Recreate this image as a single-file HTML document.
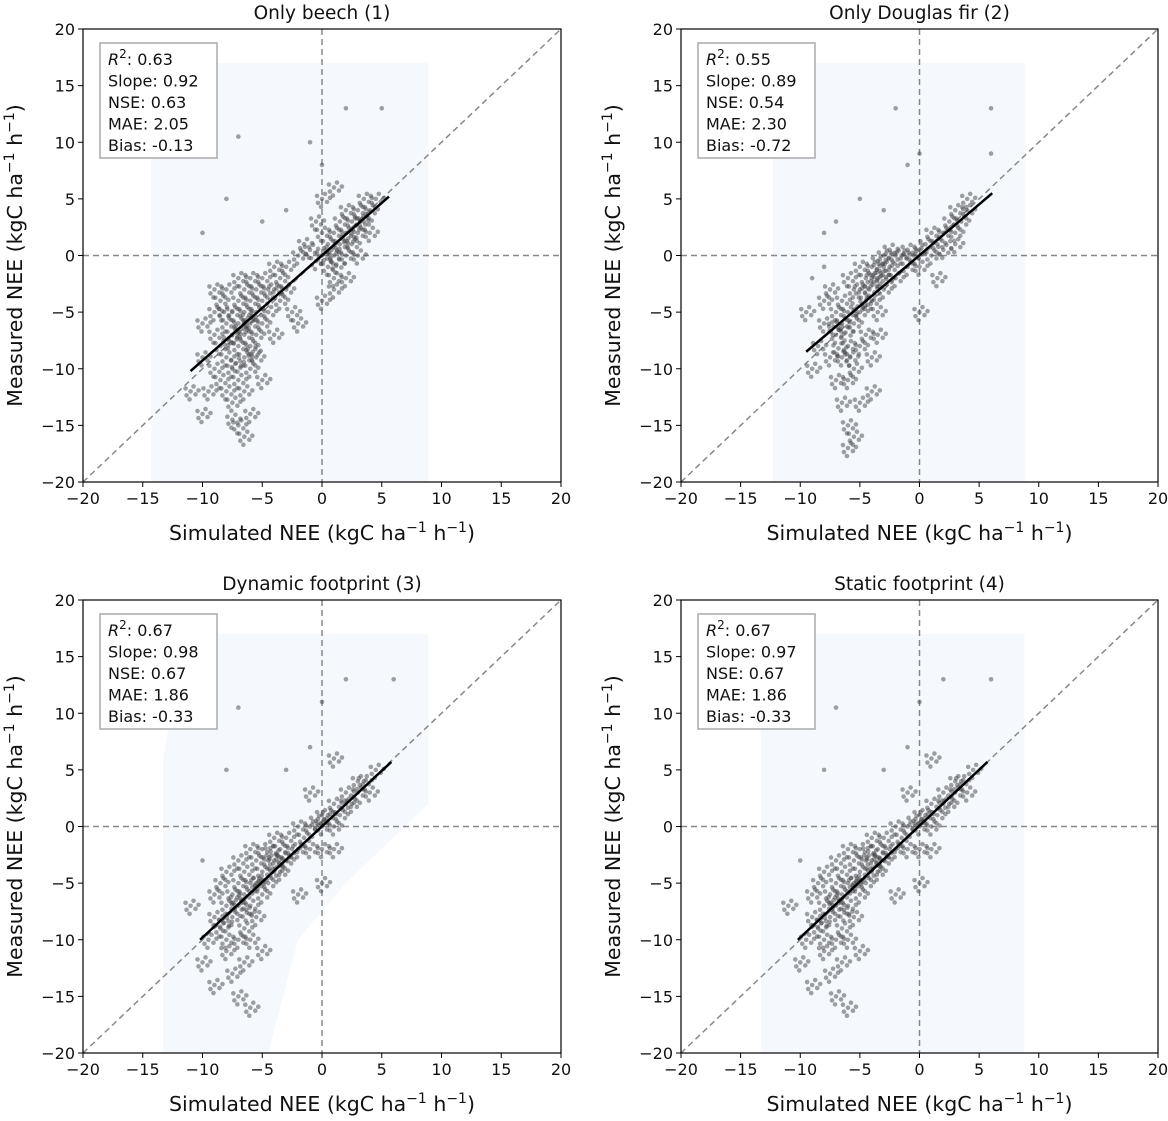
<!DOCTYPE html>
<html><head><meta charset="utf-8">
<style>
body{margin:0;background:#fff;}
svg text{font-family:"DejaVu Sans","Liberation Sans",sans-serif;fill:#111;}
</style></head>
<body>
<svg id="fig" width="1168" height="1116" viewBox="0 0 1168 1116" xmlns="http://www.w3.org/2000/svg"></svg>
<script>
const ticks=[-20,-15,-10,-5,0,5,10,15,20];
const titles=["Only beech (1)","Only Douglas fir (2)","Dynamic footprint (3)","Static footprint (4)"];
const r2=["0.63","0.55","0.67","0.67"];
const slopes=["0.92","0.89","0.98","0.97"];
const nses=["0.63","0.54","0.67","0.67"];
const maes=["2.05","2.30","1.86","1.86"];
const biases=["-0.13","-0.72","-0.33","-0.33"];
const fitLines=[[-11,-10.2,5.6,5.2],[-9.5,-8.5,6.1,5.5],[-10.2,-10,5.8,5.7],[-10.2,-10,5.7,5.7]];
const shadeRect=[[-14.3,8.9,-20,17],[-12.3,8.9,-20,17],[-13.3,8.9,-20,17],[-13.3,8.8,-20,17]];
const pts1=[[-10,-14],[-9.5,-12],[-9,-10],[-8.5,-8],[-8,-6],[-8,-9],[-8,-12],[-7.5,-5],[-7.5,-7],[-7.5,-10],[-7.5,-13],[-7,-4],[-7,-6],[-7,-8],[-7,-11],[-7,-15],[-6.5,-3],[-6.5,-5],[-6.5,-7],[-6.5,-9],[-6.5,-12],[-6,-2],[-6,-4],[-6,-6],[-6,-8],[-6,-10],[-6,-14],[-5.5,-3],[-5.5,-5],[-5.5,-7],[-5.5,-9],[-5,-2],[-5,-4],[-5,-6],[-5,-11],[-4.5,-3],[-4.5,-5],[-4,-1],[-4,-3],[-4,-7],[-3.5,-2],[-3.5,-4],[-3,-1],[-3,-3],[-2.5,-5],[-9,-7],[-9,-5],[-10,-6],[-10,-9],[-11,-12],[-8.5,-4],[-8,-3],[-9,-3],[-7,-2],[-6.5,-16],[-7.5,-14.5],[-8.5,-11],[-7.8,-7.5],[-6.8,-6.5],[-7.2,-9.5],[-6.2,-5.5],[-8.2,-5],[-5.8,-8.5],
[-2,0],[-1.5,1],[-1,0.5],[-0.5,-0.5],[0,0],[0,2],[0.5,-1],[0.5,1],[1,2],[1,0],[1,-2],[1.5,1],[1.5,3],[2,2],[2,0],[2,4],[2.5,1],[2.5,3],[3,2],[3,4],[3.5,3],[3.5,5],[4,4],[4,2],[4.5,5],[1,-3],[2,-2],[0,-4],[0,5],[0,8],[-1,10],[2,13],[5,13],[-7,10.5],[-8,5],[-3,4],[-5,3],[-10,2],[1,6],[-2,-6],[3,0],[0.8,0.5],[2.2,1.5],[1.2,-0.8],[3.2,3],[-0.5,3]];
const pts2=[[-9,-10],[-8.5,-8],[-8,-6],[-8,-4],[-7.5,-9],[-7.5,-3],[-7,-5],[-7,-7],[-7,-11],[-6.5,-4],[-6.5,-6],[-6.5,-9],[-6.5,-13],[-6,-2],[-6,-5],[-6,-8],[-6,-11],[-6,-15],[-5.5,-3],[-5.5,-6],[-5.5,-10],[-5.5,-16],[-5,-1],[-5,-3],[-5,-5],[-5,-8],[-5,-13],[-4.5,-2],[-4.5,-4],[-4.5,-7],[-4,-1],[-4,-2],[-4,-4],[-4,-9],[-3.5,-0.5],[-3.5,-2],[-3.5,-5],[-3,0],[-3,-1],[-3,-3],[-2.5,-1],[-2.5,0.5],[-2,0],[-2,-2],[-1.5,0],[-1,0.5],[-1,-1],[-0.5,0],[0,0.5],[0,-1],[0.5,1],[1,0],[1,2],[1.5,1],[2,2],[2,0.5],[2.5,3],[3,2],[3,4],[3.5,3],[4,4],[4,5],[-8,2],[-7,3],[-5,5],[-3,4],[-1,8],[-2,13],[0,9],[6,13],[6,9],[-8,-1],[-9,-2],[-9.5,-5],[-6,-17],[-4,-12],[-3.5,-7],[-7.2,-6.3],[-6.2,-6.8],[-5.2,-4.5],[-4.2,-3],[-3.2,-1.8],[-6.8,-8.2],[-5.8,-9],[1.5,-2],[0,-5],[3,1]];
const pts3=[[-10,-12],[-9.5,-10],[-9,-8],[-9,-6],[-8.5,-9],[-8.5,-5],[-8,-7],[-8,-4],[-8,-11],[-7.5,-6],[-7.5,-8],[-7.5,-13],[-7,-3],[-7,-5],[-7,-7],[-7,-10],[-7,-15],[-6.5,-4],[-6.5,-6],[-6.5,-9],[-6.5,-12],[-6,-2],[-6,-5],[-6,-7],[-6,-10],[-6,-16],[-5.5,-3],[-5.5,-5],[-5.5,-8],[-5,-2],[-5,-4],[-5,-6],[-5,-11],[-4.5,-3],[-4.5,-5],[-4,-1],[-4,-3],[-4,-4],[-3.5,-2],[-3.5,-4],[-3,-1],[-3,-3],[-2.5,-2],[-2,0],[-2,-2],[-1.5,-1],[-1,0],[-1,-2],[-0.5,0.5],[0,0],[0,1],[0,-2],[0.5,1],[1,0],[1,2],[1.5,1],[2,2],[2,3],[2.5,2],[3,3],[3,4],[3.5,4],[4,3],[4.5,5],[-8,5],[-7,10.5],[-3,5],[-1,7],[0,11],[1,6],[2,13],[6,13],[-10,-3],[-11,-7],[-9,-14],[-7.2,-6.5],[-6.3,-7.6],[-5.3,-4.8],[-8.2,-8.5],[-4.3,-2.2],[-3.3,-2.8],[1,-2],[0,-5],[-1,3],[-2,-6],[-8,-10]];
const pts4=pts3.map(p=>[p[0],p[1]]);
const allPts=[pts1,pts2,pts3,pts4];

const NS="http://www.w3.org/2000/svg";
const svg=document.getElementById('fig');
function mk(tag,attrs,parent){const e=document.createElementNS(NS,tag);for(const k in attrs)e.setAttribute(k,attrs[k]);(parent||svg).appendChild(e);return e;}
const panels=[[83,561,29,482],[681,1158,29,482],[83,561,600,1053],[681,1158,600,1053]];
const fmt=v=>v<0?"\u2212"+(-v):""+v;
const spread=[[0,0],[5,3],[-4,4],[3,-5],[-5,-3],[8,-1],[-1,8]];

panels.forEach((P,i)=>{
  const [L,R,T,B]=P;
  const sx=v=>L+(v+20)/40*(R-L);
  const sy=v=>B-(v+20)/40*(B-T);
  const g=mk('g',{});
  
  
  const sr=shadeRect[i];
  let sh;
  if(i===2){
    sh=mk('polygon',{points:[[sx(-13.3),sy(-20)],[sx(-13.3),sy(6)],[sx(-11.5),sy(17)],[sx(8.9),sy(17)],[sx(8.9),sy(2)],[sx(2),sy(-5)],[sx(-2),sy(-10)],[sx(-4.5),sy(-20)]].map(p=>p.join(',')).join(' '),fill:'#f5f9fe'},g);
  } else {
    sh=mk('rect',{x:sx(sr[0]),y:sy(sr[3]),width:sx(sr[1])-sx(sr[0]),height:sy(sr[2])-sy(sr[3]),fill:'#f5f9fe'},g);
  }
  
  
  const d1=mk('line',{x1:sx(-20),y1:sy(-20),x2:sx(20),y2:sy(20),stroke:'#888','stroke-width':1.5,'stroke-dasharray':'6,4'},g);
  
  
  const h0=mk('line',{x1:L,y1:sy(0),x2:R,y2:sy(0),stroke:'#888','stroke-width':1.5,'stroke-dasharray':'6,4'},g);
  
  
  const v0=mk('line',{x1:sx(0),y1:T,x2:sx(0),y2:B,stroke:'#888','stroke-width':1.5,'stroke-dasharray':'6,4'},g);
  
  
  allPts[i].forEach(p=>{
    const isolated=(p[1]>=7)||(p[1]-p[0]>6.5);
    const pat=isolated?[[0,0]]:spread;
    pat.forEach(o=>{
      const c=mk('circle',{cx:sx(p[0])+o[0],cy:sy(p[1])+o[1],r:2.3,fill:'#444',opacity:0.5},g);
      
      
    });
  });
  const f=fitLines[i];
  const fl=mk('line',{x1:sx(f[0]),y1:sy(f[1]),x2:sx(f[2]),y2:sy(f[3]),stroke:'#000','stroke-width':2.5},g);
  
  
  const fr=mk('rect',{x:L,y:T,width:R-L,height:B-T,fill:'none',stroke:'#000','stroke-width':1.2},g);
  
  
  ticks.forEach(t=>{
    mk('line',{x1:sx(t),y1:B,x2:sx(t),y2:B+5,stroke:'#000'},g);
    const tx=mk('text',{x:sx(t),y:B+22,'text-anchor':'middle','font-size':16},g);
    tx.textContent=fmt(t);
    
    
    mk('line',{x1:L-5,y1:sy(t),x2:L,y2:sy(t),stroke:'#000'},g);
    const ty=mk('text',{x:L-8,y:sy(t)+6,'text-anchor':'end','font-size':16},g);
    ty.textContent=fmt(t);
    
    
  });
  const ti=mk('text',{x:(L+R)/2,y:T-10,'text-anchor':'middle','font-size':18.5},g);
  ti.textContent=titles[i];
  
  
  const xl=mk('text',{x:(L+R)/2,y:B+58,'text-anchor':'middle','font-size':20.5},g);
  xl.innerHTML='Simulated NEE (kgC ha<tspan dy="-8" font-size="14">\u22121</tspan><tspan dy="8"> h</tspan><tspan dy="-8" font-size="14">\u22121</tspan><tspan dy="8">)</tspan>';
  
  
  const yx=L-61, yy=(T+B)/2;
  const yl=mk('text',{x:yx,y:yy,'text-anchor':'middle','font-size':20.5,transform:`rotate(-90 ${yx} ${yy})`},g);
  yl.innerHTML='Measured NEE (kgC ha<tspan dy="-8" font-size="14">\u22121</tspan><tspan dy="8"> h</tspan><tspan dy="-8" font-size="14">\u22121</tspan><tspan dy="8">)</tspan>';
  
  
  const bx=L+17, by=T+14;
  const box=mk('rect',{x:bx,y:by,width:117,height:115,fill:'#fff',stroke:'#aaa','stroke-width':1.5},g);
  
  
  const lines=['<tspan font-style="italic">R</tspan><tspan dy="-7" font-size="12">2</tspan><tspan dy="7">: '+r2[i]+'</tspan>','Slope: '+slopes[i],'NSE: '+nses[i],'MAE: '+maes[i],'Bias: '+biases[i]];
  lines.forEach((s,k)=>{
    const t=mk('text',{x:bx+8,y:by+22+k*21.5,'font-size':16},g);
    t.innerHTML=s;
    
    
  });
});
</script>
</body></html>
